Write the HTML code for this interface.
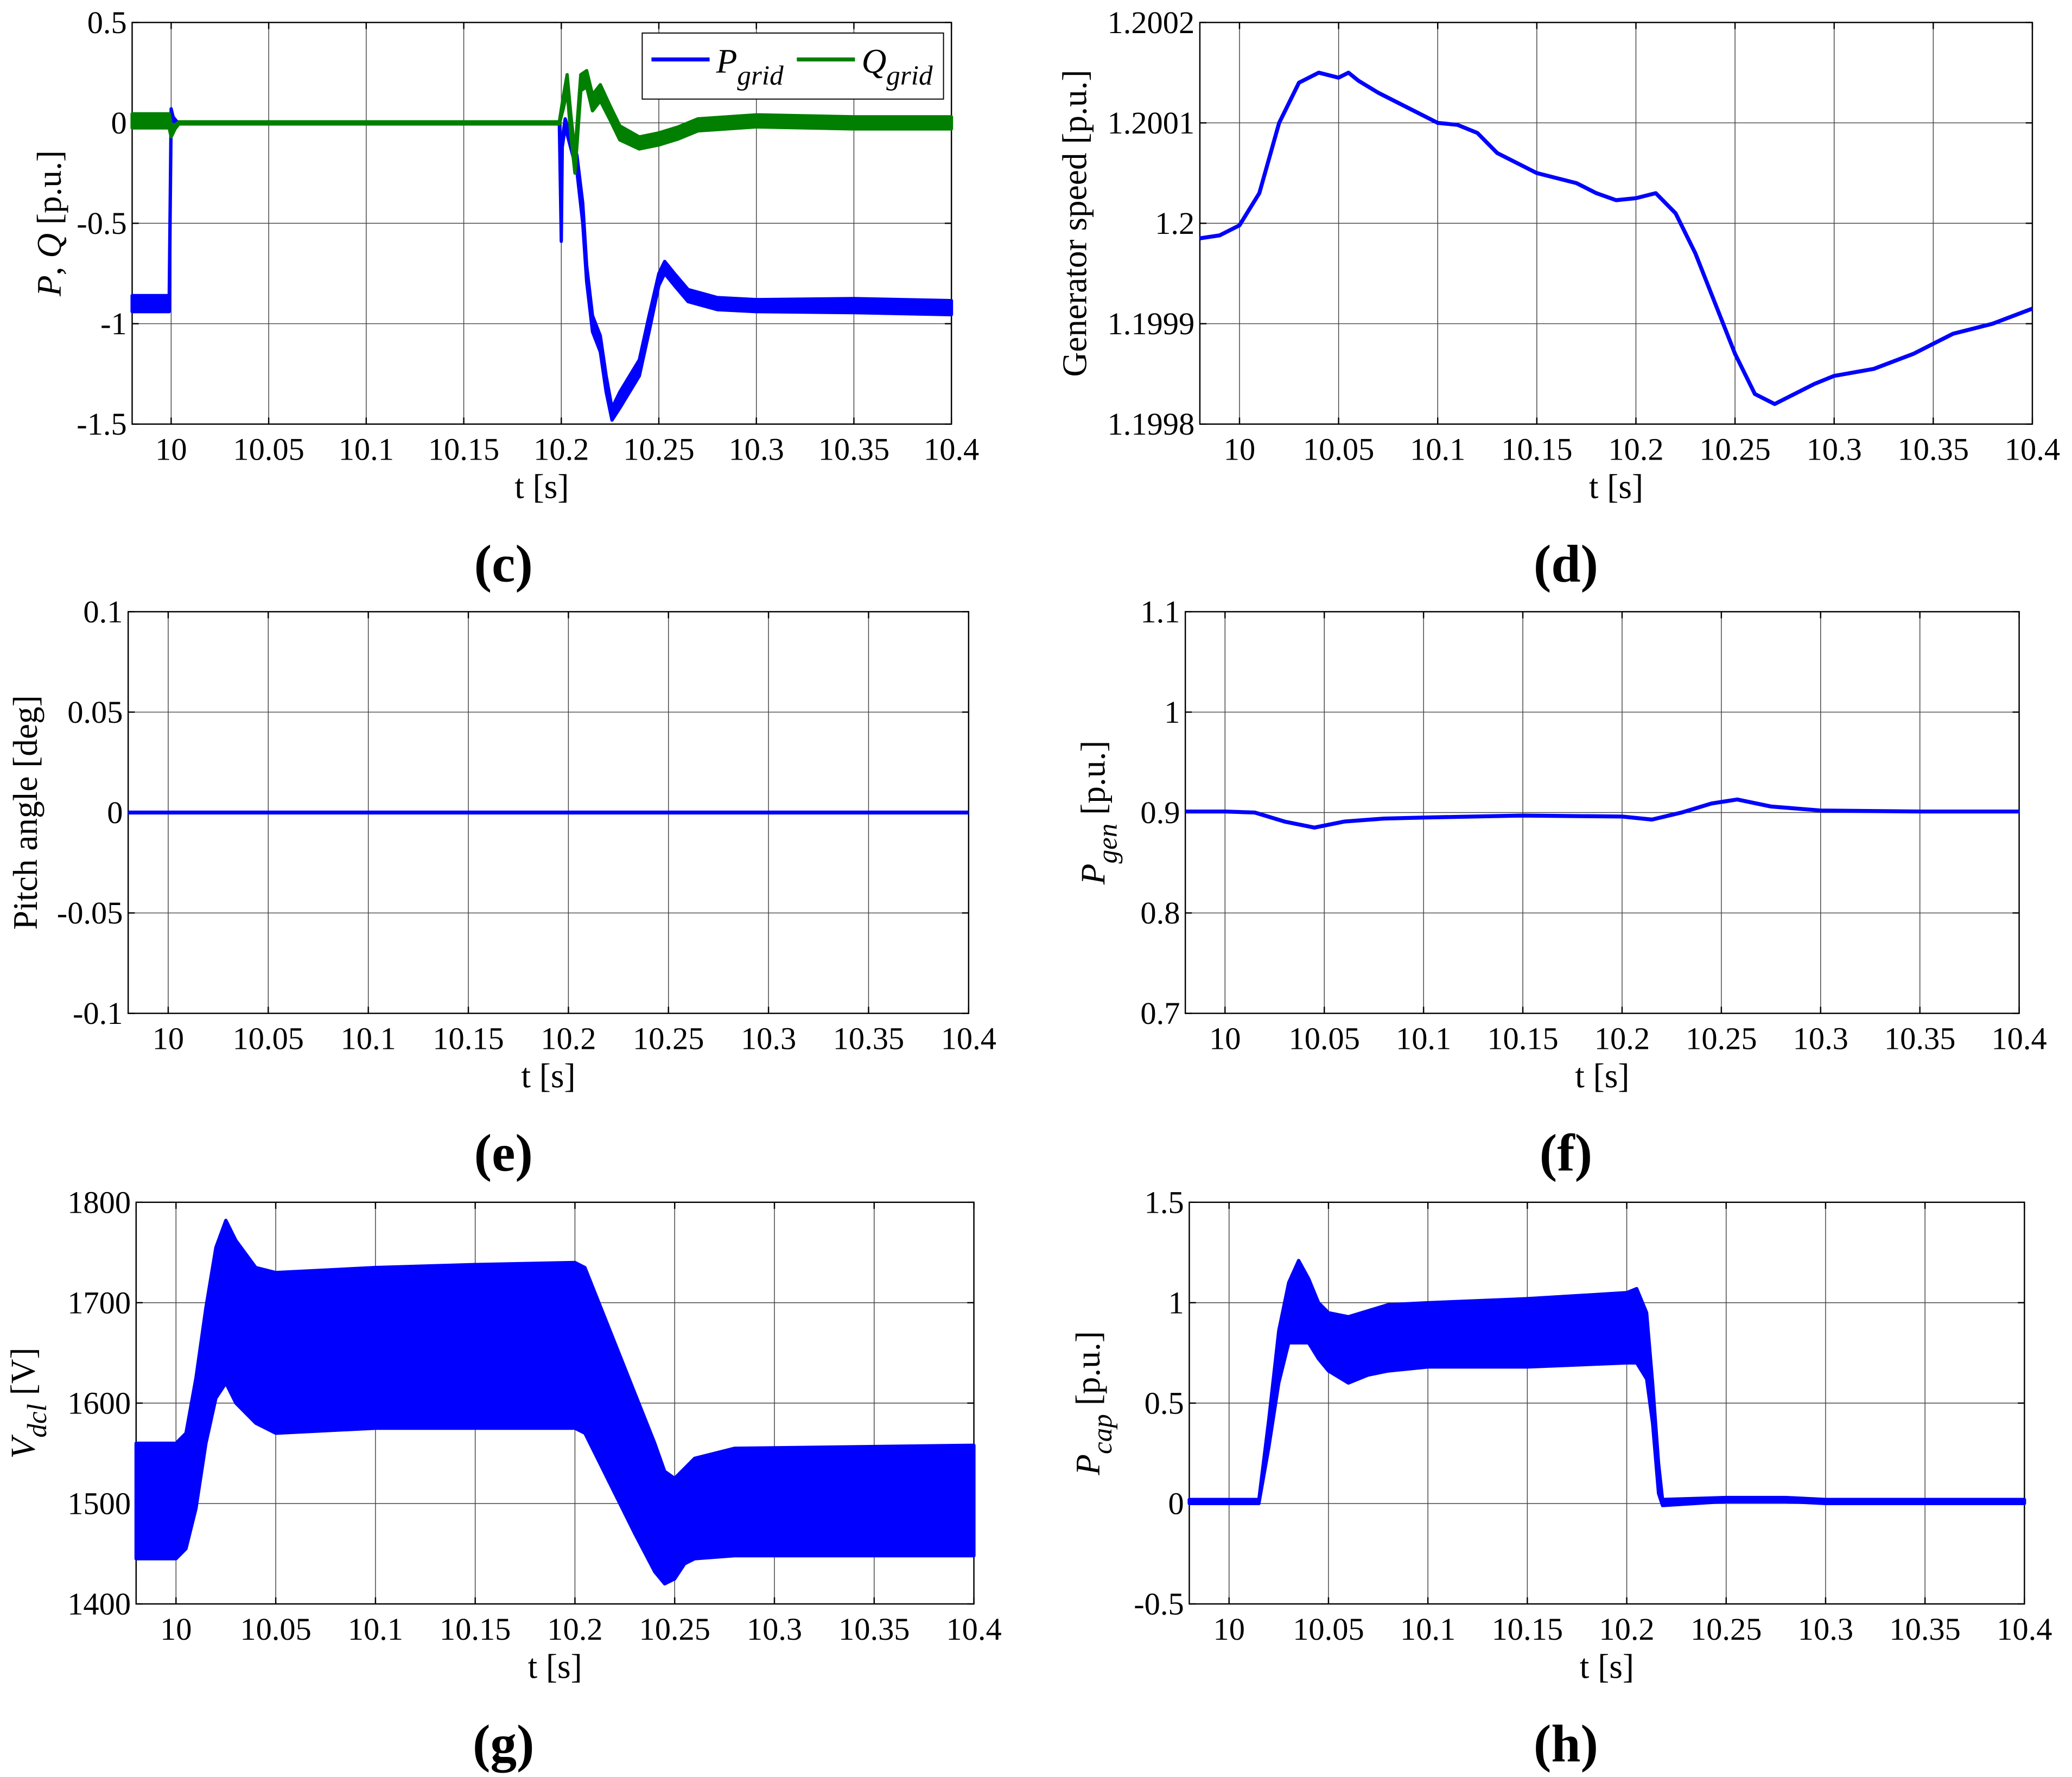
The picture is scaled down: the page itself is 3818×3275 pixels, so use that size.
<!DOCTYPE html>
<html><head><meta charset="utf-8"><style>
html,body{margin:0;padding:0;background:#fff}
svg{display:block}
text{font-family:"Liberation Serif",serif;fill:#000}
</style></head><body>
<svg id="fig" width="3818" height="3275" viewBox="0 0 1568 1345" preserveAspectRatio="none" xmlns="http://www.w3.org/2000/svg">
<rect x="0" y="0" width="1568" height="1345" fill="#fff"/>
</svg>
<script>
// ---------- data ----------
const xTicks = [10, 10.05, 10.1, 10.15, 10.2, 10.25, 10.3, 10.35, 10.4];
const xTickLabels = ["10","10.05","10.1","10.15","10.2","10.25","10.3","10.35","10.4"];

// (c) P_grid / Q_grid
const cTicks = [0.5, 0, -0.5, -1, -1.5];
const cTickLabels = ["0.5","0","-0.5","-1","-1.5"];
const pT   = [9.98, 9.999, 10.0, 10.001, 10.003, 10.1, 10.199, 10.2, 10.2005, 10.202, 10.205, 10.208, 10.211, 10.213, 10.216, 10.22, 10.223, 10.226, 10.23, 10.235, 10.24, 10.245, 10.25, 10.253, 10.258, 10.265, 10.28, 10.3, 10.35, 10.4];
const pMid = [-0.9, -0.9, 0.05, 0.02, 0, 0, 0, -0.58, -0.1, 0, -0.1, -0.2, -0.45, -0.75, -1.0, -1.1, -1.3, -1.45, -1.38, -1.3, -1.22, -1.0, -0.78, -0.72, -0.78, -0.86, -0.9, -0.91, -0.91, -0.92];
const pNoise = [0.04, 0.04, 0.02, 0.01, 0.005, 0.005, 0.005, 0.01, 0.02, 0.02, 0.03, 0.04, 0.05, 0.04, 0.04, 0.04, 0.04, 0.03, 0.04, 0.04, 0.04, 0.04, 0.03, 0.03, 0.03, 0.03, 0.03, 0.03, 0.035, 0.035];
const qT   = [9.98, 9.999, 10.0, 10.002, 10.004, 10.1, 10.199, 10.201, 10.203, 10.205, 10.207, 10.21, 10.213, 10.216, 10.22, 10.225, 10.23, 10.24, 10.25, 10.26, 10.27, 10.3, 10.35, 10.4];
const qMid = [0.01, 0.01, -0.04, -0.02, 0, 0, 0, 0.1, 0.2, -0.02, -0.2, 0.2, 0.22, 0.1, 0.15, 0.05, -0.05, -0.1, -0.08, -0.05, -0.01, 0.01, 0.0, 0.0];
const qNoise = [0.035, 0.035, 0.03, 0.01, 0.005, 0.005, 0.005, 0.03, 0.04, 0.05, 0.05, 0.04, 0.04, 0.04, 0.04, 0.035, 0.035, 0.03, 0.03, 0.03, 0.03, 0.03, 0.03, 0.03];

// (d) generator speed
const dTicks = [1.2002, 1.2001, 1.2, 1.1999, 1.1998];
const dTickLabels = ["1.2002","1.2001","1.2","1.1999","1.1998"];
const dT = [9.98, 9.99, 10.0, 10.01, 10.02, 10.03, 10.04, 10.05, 10.055, 10.06, 10.07, 10.08, 10.09, 10.1, 10.11, 10.12, 10.13, 10.14, 10.15, 10.16, 10.17, 10.18, 10.19, 10.2, 10.21, 10.22, 10.23, 10.24, 10.25, 10.26, 10.27, 10.28, 10.29, 10.3, 10.32, 10.34, 10.36, 10.38, 10.4];
const dV = [1.199985, 1.199988, 1.199998, 1.20003, 1.2001, 1.20014, 1.20015, 1.200145, 1.20015, 1.200142, 1.20013, 1.20012, 1.20011, 1.2001, 1.200098, 1.20009, 1.20007, 1.20006, 1.20005, 1.200045, 1.20004, 1.20003, 1.200023, 1.200025, 1.20003, 1.20001, 1.19997, 1.19992, 1.19987, 1.19983, 1.19982, 1.19983, 1.19984, 1.199848, 1.199855, 1.19987, 1.19989, 1.1999, 1.199915];

// (e) pitch angle
const eTicks = [0.1, 0.05, 0, -0.05, -0.1];
const eTickLabels = ["0.1","0.05","0","-0.05","-0.1"];
const eT = [9.98, 10.4];
const eV = [0, 0];

// (f) P_gen
const fTicks = [1.1, 1, 0.9, 0.8, 0.7];
const fTickLabels = ["1.1","1","0.9","0.8","0.7"];
const fT = [9.98, 10.0, 10.015, 10.03, 10.045, 10.06, 10.08, 10.1, 10.15, 10.2, 10.215, 10.23, 10.245, 10.258, 10.275, 10.3, 10.35, 10.4];
const fV = [0.901, 0.901, 0.9, 0.891, 0.885, 0.891, 0.894, 0.895, 0.897, 0.896, 0.893, 0.9, 0.909, 0.913, 0.906, 0.902, 0.901, 0.901];

// (g) V_dcl envelope
const gTicks = [1800, 1700, 1600, 1500, 1400];
const gTickLabels = ["1800","1700","1600","1500","1400"];
const gT  = [9.98, 10.0, 10.005, 10.01, 10.015, 10.02, 10.025, 10.03, 10.04, 10.05, 10.1, 10.15, 10.2, 10.205, 10.21, 10.22, 10.23, 10.24, 10.245, 10.25, 10.255, 10.26, 10.28, 10.4];
const gLo = [1445, 1445, 1455, 1495, 1560, 1605, 1620, 1600, 1580, 1570, 1575, 1575, 1575, 1570, 1550, 1510, 1470, 1432, 1420, 1425, 1440, 1445, 1448, 1448];
const gHi = [1560, 1560, 1570, 1625, 1695, 1755, 1782, 1762, 1735, 1730, 1735, 1738, 1740, 1735, 1710, 1660, 1610, 1560, 1532, 1525, 1535, 1545, 1555, 1558];

// (h) P_cap envelope
const hTicks = [1.5, 1, 0.5, 0, -0.5];
const hTickLabels = ["1.5","1","0.5","0","-0.5"];
const hT  = [9.98, 10.015, 10.02, 10.025, 10.03, 10.035, 10.04, 10.045, 10.05, 10.06, 10.07, 10.08, 10.1, 10.15, 10.2, 10.205, 10.21, 10.213, 10.216, 10.218, 10.25, 10.28, 10.3, 10.4];
const hLo = [0.0, 0.0, 0.28, 0.6, 0.8, 0.8, 0.8, 0.72, 0.66, 0.6, 0.64, 0.66, 0.68, 0.68, 0.7, 0.7, 0.62, 0.4, 0.05, -0.01, 0.01, 0.01, 0.0, 0.0];
const hHi = [0.02, 0.02, 0.42, 0.86, 1.1, 1.21, 1.12, 1.0, 0.95, 0.93, 0.96, 0.99, 1.0, 1.02, 1.05, 1.07, 0.95, 0.6, 0.2, 0.02, 0.03, 0.03, 0.02, 0.02];

// ---------- drawing ----------
const NS = "http://www.w3.org/2000/svg";
const svg = document.getElementById('fig');
function mk(tag, attrs, parent){ const e=document.createElementNS(NS,tag); for(const k in attrs) e.setAttribute(k,attrs[k]); (parent||svg).appendChild(e); return e; }

function panel(P){
  const g = mk('g', {});
  
  
  const xmin=9.98, xmax=10.4;
  const X = t => P.x0 + (t - xmin)/(xmax - xmin)*(P.x1 - P.x0);
  const Y = v => P.y0 + (P.ymax - v)/(P.ymax - P.ymin)*(P.y1 - P.y0);
  P.X = X; P.Y = Y;
  xTicks.forEach((t,i)=>{
    const x=X(t);
    const l=mk('line',{x1:x,x2:x,y1:P.y0,y2:P.y1,stroke:'#444','stroke-width':0.6},g);
    
    
    mk('line',{x1:x,x2:x,y1:P.y1,y2:P.y1-5,stroke:'#000','stroke-width':1},g);
    mk('line',{x1:x,x2:x,y1:P.y0,y2:P.y0+5,stroke:'#000','stroke-width':1},g);
    const tx=mk('text',{x:x,y:P.y1+27,'font-size':24,'text-anchor':'middle'},g);
    tx.textContent=xTickLabels[i];
    
    
  });
  P.ticks.forEach((v,i)=>{
    const y=Y(v);
    const l=mk('line',{x1:P.x0,x2:P.x1,y1:y,y2:y,stroke:'#444','stroke-width':0.6},g);
    
    
    mk('line',{x1:P.x0,x2:P.x0+5,y1:y,y2:y,stroke:'#000','stroke-width':1},g);
    mk('line',{x1:P.x1,x2:P.x1-5,y1:y,y2:y,stroke:'#000','stroke-width':1},g);
    const tx=mk('text',{x:P.x0-4,y:y+8,'font-size':24,'text-anchor':'end'},g);
    tx.textContent=P.labels[i];
    
    
  });
  const fr=mk('rect',{x:P.x0,y:P.y0,width:P.x1-P.x0,height:P.y1-P.y0,fill:'none',stroke:'#000','stroke-width':1},g);
  
  
  const xl=mk('text',{x:(P.x0+P.x1)/2,y:P.y1+56,'font-size':26,'text-anchor':'middle'},g);
  xl.textContent='t [s]';
  
  
  const yl=mk('text',{x:0,y:0,'font-size':26,'text-anchor':'middle',transform:`translate(${P.ylx},${(P.y0+P.y1)/2}) rotate(-90)`},g);
  yl.innerHTML=P.ylabel;
  
  
  const pl=mk('text',{x:P.px,y:P.y1+119,'font-size':40,'font-weight':'bold','text-anchor':'middle'},g);
  pl.textContent=P.tag;
  
  
  P.g=g;
  return P;
}
function line(P, ts, vs, color, w, name){
  const pts=ts.map((t,i)=>P.X(t).toFixed(2)+','+P.Y(vs[i]).toFixed(2)).join(' ');
  const l=mk('polyline',{points:pts,fill:'none',stroke:color,'stroke-width':w,'stroke-linejoin':'round'},P.g);
  
  
}
function band(P, ts, lo, hi, color, name){
  const up=ts.map((t,i)=>P.X(t).toFixed(2)+','+P.Y(hi[i]).toFixed(2));
  const dn=ts.map((t,i)=>P.X(t).toFixed(2)+','+P.Y(lo[i]).toFixed(2)).reverse();
  const b=mk('polygon',{points:up.concat(dn).join(' '),fill:color,stroke:color,'stroke-width':2.5,'stroke-linejoin':'round'},P.g);
  
  
}

const C=panel({name:'panel-c-grid-power',x0:100,x1:720,y0:17,y1:321,ymin:-1.5,ymax:0.5,ticks:cTicks,labels:cTickLabels,ylx:46,px:381,tag:'(c)',
  ylabel:'<tspan font-style="italic">P</tspan>, <tspan font-style="italic">Q</tspan> [p.u.]'});
band(C,pT,pMid.map((v,i)=>v-pNoise[i]),pMid.map((v,i)=>v+pNoise[i]),'#0000ff','p-grid-series');
band(C,qT,qMid.map((v,i)=>v-qNoise[i]),qMid.map((v,i)=>v+qNoise[i]),'#007f00','q-grid-series');
const lg=mk('g',{},C.g);


mk('rect',{x:486,y:25,width:228,height:50,fill:'#fff',stroke:'#000','stroke-width':0.8},lg);
mk('line',{x1:493,x2:537,y1:45,y2:45,stroke:'#0000ff','stroke-width':3},lg);
mk('line',{x1:603,x2:647,y1:45,y2:45,stroke:'#007f00','stroke-width':3},lg);
const l1=mk('text',{x:542,y:55,'font-size':26,'font-style':'italic'},lg);
l1.innerHTML='P<tspan dy="9" font-size="21">grid</tspan>';


const l2=mk('text',{x:652,y:55,'font-size':26,'font-style':'italic'},lg);
l2.innerHTML='Q<tspan dy="9" font-size="21">grid</tspan>';



const D=panel({name:'panel-d-generator-speed',x0:908,x1:1538,y0:17,y1:321,ymin:1.1998,ymax:1.2002,ticks:dTicks,labels:dTickLabels,ylx:822,px:1185,tag:'(d)',
  ylabel:'Generator speed [p.u.]'});
line(D,dT,dV,'#0000ff',3,'generator-speed-series');

const E=panel({name:'panel-e-pitch-angle',x0:97,x1:733,y0:463,y1:767,ymin:-0.1,ymax:0.1,ticks:eTicks,labels:eTickLabels,ylx:28,px:381,tag:'(e)',
  ylabel:'Pitch angle [deg]'});
line(E,eT,eV,'#0000ff',3,'pitch-angle-series');

const F=panel({name:'panel-f-generator-power',x0:897,x1:1528,y0:463,y1:767,ymin:0.7,ymax:1.1,ticks:fTicks,labels:fTickLabels,ylx:836,px:1185,tag:'(f)',
  ylabel:'<tspan font-style="italic">P</tspan><tspan dy="9" font-size="21" font-style="italic">gen</tspan><tspan dy="-9"> [p.u.]</tspan>'});
line(F,fT,fV,'#0000ff',3,'p-gen-series');

const G=panel({name:'panel-g-dc-link-voltage',x0:103,x1:737,y0:910,y1:1214,ymin:1400,ymax:1800,ticks:gTicks,labels:gTickLabels,ylx:26,px:381,tag:'(g)',
  ylabel:'<tspan font-style="italic">V</tspan><tspan dy="9" font-size="21" font-style="italic">dcl</tspan><tspan dy="-9"> [V]</tspan>'});
band(G,gT,gLo,gHi,'#0000ff','v-dcl-series');

const H=panel({name:'panel-h-capacitor-power',x0:900,x1:1532,y0:910,y1:1214,ymin:-0.5,ymax:1.5,ticks:hTicks,labels:hTickLabels,ylx:832,px:1185,tag:'(h)',
  ylabel:'<tspan font-style="italic">P</tspan><tspan dy="9" font-size="21" font-style="italic">cap</tspan><tspan dy="-9"> [p.u.]</tspan>'});
band(H,hT,hLo,hHi,'#0000ff','p-cap-series');
</script>
</body></html>
